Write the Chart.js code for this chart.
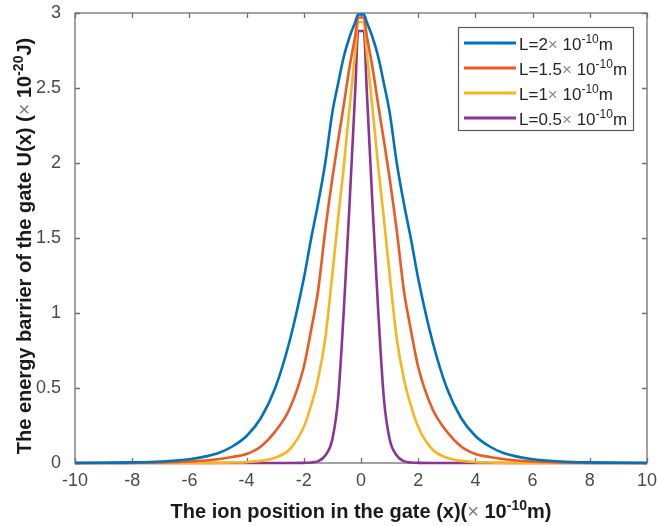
<!DOCTYPE html>
<html>
<head>
<meta charset="utf-8">
<script src="https://cdn.jsdelivr.net/npm/chart.js@4/dist/chart.umd.min.js"></script>
<style>
html,body{margin:0;padding:0;background:#fff;}
canvas{display:block;}
</style>
</head>
<body>
<canvas id="c" width="657" height="526"></canvas>
<script>
// Ion position in the gate (x 10^-10 m)
const xPositions = [-10,-9,-8,-7,-6,-5,-4.5,-4,-3.5,-3,-2.5,-2,-1.75,-1.5,-1.25,-1,-0.8,-0.6,-0.4,-0.2,-0.1,
                    0.1,0.2,0.4,0.6,0.8,1,1.25,1.5,1.75,2,2.5,3,3.5,4,4.5,5,6,7,8,9,10];
// Energy barrier U(x) (x 10^-20 J)
const uL2  = [0,0.002,0.004,0.01,0.025,0.065,0.11,0.18,0.30,0.50,0.81,1.23,1.49,1.73,2.00,2.34,2.53,2.71,2.84,2.94,2.99,
              2.99,2.94,2.84,2.71,2.53,2.34,2.00,1.73,1.49,1.23,0.81,0.50,0.30,0.18,0.11,0.065,0.025,0.01,0.004,0.002,0];
const uL15 = [0,0,0.001,0.003,0.01,0.025,0.04,0.06,0.11,0.21,0.36,0.64,0.88,1.15,1.55,1.90,2.15,2.39,2.64,2.85,2.97,
              2.97,2.85,2.64,2.39,2.15,1.90,1.55,1.15,0.88,0.64,0.36,0.21,0.11,0.06,0.04,0.025,0.01,0.003,0.001,0,0];
const uL1  = [0,0,0,0,0,0.001,0.003,0.006,0.014,0.035,0.09,0.24,0.38,0.56,0.83,1.26,1.63,1.98,2.37,2.74,2.94,
              2.94,2.74,2.37,1.98,1.63,1.26,0.83,0.56,0.38,0.24,0.09,0.035,0.014,0.006,0.003,0.001,0,0,0,0,0];
const uL05 = [0,0,0,0,0,0,0,0,0,0,0,0.001,0.003,0.012,0.05,0.16,0.43,1.02,1.73,2.49,2.88,
              2.88,2.49,1.73,1.02,0.43,0.16,0.05,0.012,0.003,0.001,0,0,0,0,0,0,0,0,0,0,0];
const seriesLabels = ['L=2', 'L=1.5', 'L=1', 'L=0.5'];
const seriesValues = [uL2, uL15, uL1, uL05];
const seriesColors = ['#0072BD', '#EC5A24', '#F7B520', '#8A3595'];
const xTickStep = 2;
const yTickStep = 0.5;
const xTitleParts = [['The ion position in the gate (x)(', 0], ['×', 2], [' 10', 0], ['-10', 1], ['m)', 0]];
const yTitleParts = [['The energy barrier of the gate U(x) (', 0], ['×', 2], [' 10', 0], ['-20', 1], ['J)', 0]];

const FONT = "'Liberation Sans', Arial, sans-serif";

const datasets = seriesValues.map((vals, i) => ({
  label: seriesLabels[i] + '× 10-10m',
  data: xPositions.map((x, j) => ({x: x, y: vals[j]})),
  borderColor: seriesColors[i],
  backgroundColor: seriesColors[i],
  borderWidth: 2.6,
  pointRadius: 0,
  fill: false,
  cubicInterpolationMode: 'monotone',
  clip: false
}));

// draw text with superscripts, centred at (0,0) of the current transform
function drawRich(ctx, parts, size, bold) {
  const fMain = (bold ? 'bold ' : '') + size + 'px ' + FONT;
  const fSym = size + 'px ' + FONT;
  const fSup = (bold ? 'bold ' : '') + Math.round(size * 0.68) + 'px ' + FONT;
  const fontOf = k => k === 1 ? fSup : (k === 2 ? fSym : fMain);
  let total = 0;
  parts.forEach(p => { ctx.font = fontOf(p[1]); total += ctx.measureText(p[0]).width; });
  let x = -total / 2;
  ctx.textBaseline = 'alphabetic';
  ctx.textAlign = 'left';
  parts.forEach(p => {
    ctx.font = fontOf(p[1]);
    ctx.fillStyle = p[1] === 2 ? '#7a7a7a' : '#1a1a1a';
    ctx.fillText(p[0], x, p[1] === 1 ? -size * 0.42 : 0);
    x += ctx.measureText(p[0]).width;
  });
}

const framePlugin = {
  id: 'frame',
  beforeDatasetsDraw(chart) {
    const {ctx, chartArea: a, scales} = chart;
    ctx.save();
    ctx.strokeStyle = '#707070';
    ctx.lineWidth = 1.3;
    ctx.strokeRect(a.left, a.top, a.right - a.left, a.bottom - a.top);
    const tl = 5;
    ctx.beginPath();
    scales.x.ticks.forEach(t => {
      const px = Math.round(scales.x.getPixelForValue(t.value)) + 0.5;
      ctx.moveTo(px, a.bottom); ctx.lineTo(px, a.bottom - tl);
      ctx.moveTo(px, a.top); ctx.lineTo(px, a.top + tl);
    });
    scales.y.ticks.forEach(t => {
      const py = Math.round(scales.y.getPixelForValue(t.value)) + 0.5;
      ctx.moveTo(a.left, py); ctx.lineTo(a.left + tl, py);
      ctx.moveTo(a.right, py); ctx.lineTo(a.right - tl, py);
    });
    ctx.stroke();
    ctx.restore();
  },
  afterDraw(chart) {
    const {ctx, chartArea: a} = chart;
    ctx.save();
    // axis titles
    ctx.save();
    ctx.translate((a.left + a.right) / 2, 518);
    drawRich(ctx, xTitleParts, 20, true);
    ctx.restore();
    ctx.save();
    ctx.translate(31, (a.top + a.bottom) / 2 + 8);
    ctx.rotate(-Math.PI / 2);
    drawRich(ctx, yTitleParts, 20, true);
    ctx.restore();

    // legend
    const bx = 458, by = 27, bw = 175, bh = 103;
    ctx.fillStyle = '#fff';
    ctx.fillRect(bx, by, bw, bh);
    ctx.strokeStyle = '#5a5a5a';
    ctx.lineWidth = 1.2;
    ctx.strokeRect(bx + 0.5, by + 0.5, bw, bh);
    const rowY = [43, 68, 93, 118];
    chart.data.datasets.forEach((ds, i) => {
      const y = rowY[i];
      ctx.strokeStyle = ds.borderColor;
      ctx.lineWidth = 2.8;
      ctx.beginPath();
      ctx.moveTo(464, y); ctx.lineTo(516, y);
      ctx.stroke();
      let x = 519;
      ctx.textBaseline = 'alphabetic';
      ctx.textAlign = 'left';
      const base = y + 7;
      ctx.font = '17px ' + FONT;
      ctx.fillStyle = '#262626';
      const main = seriesLabels[i];
      ctx.fillText(main, x, base); x += ctx.measureText(main).width;
      ctx.fillStyle = '#8a8a8a';
      ctx.fillText('×', x, base); x += ctx.measureText('× ').width;
      ctx.fillStyle = '#262626';
      ctx.fillText('10', x, base); x += ctx.measureText('10').width;
      ctx.font = '12px ' + FONT;
      ctx.fillText('-10', x, base - 7); x += ctx.measureText('-10').width;
      ctx.font = '17px ' + FONT;
      ctx.fillText('m', x, base);
    });
    ctx.restore();
  }
};

new Chart(document.getElementById('c'), {
  type: 'line',
  data: {datasets: datasets},
  options: {
    responsive: false,
    animation: false,
    layout: {padding: {top: 13, right: 0, left: 0, bottom: 0}},
    plugins: {legend: {display: false}, tooltip: {enabled: false}},
    scales: {
      x: {
        type: 'linear', min: -10, max: 10,
        ticks: {stepSize: xTickStep, padding: 7, color: '#4a4a4a', font: {family: FONT, size: 18},
                callback: v => String(v)},
        grid: {display: false, drawTicks: false},
        border: {display: false},
        afterFit(s) { s.height = 63; s.paddingRight = 10; s.paddingLeft = 0; }
      },
      y: {
        type: 'linear', min: 0, max: 3,
        ticks: {stepSize: yTickStep, padding: 14, color: '#4a4a4a', font: {family: FONT, size: 18},
                callback: v => String(Math.round(v * 10) / 10)},
        grid: {display: false, drawTicks: false},
        border: {display: false},
        afterFit(s) { s.width = 75; s.paddingTop = 0; s.paddingBottom = 0; }
      }
    }
  },
  plugins: [framePlugin]
});
</script>
</body>
</html>
